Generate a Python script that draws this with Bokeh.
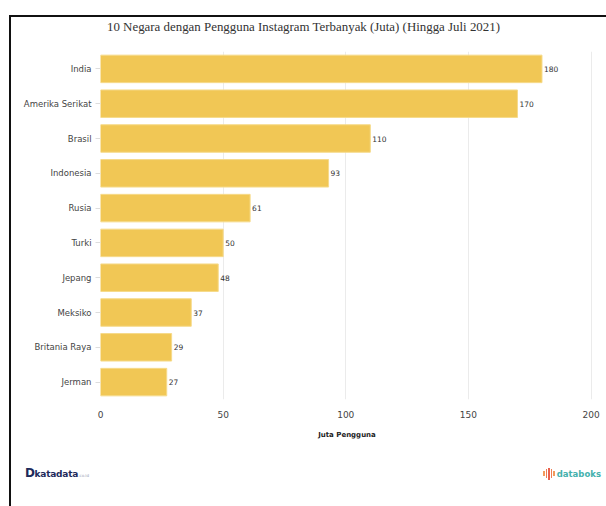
from bokeh.plotting import figure
from bokeh.models import Range1d, FactorRange, ColumnDataSource, LabelSet, Div
from bokeh.layouts import column
from bokeh.core.properties import value
from bokeh.embed import file_html
from bokeh.resources import INLINE

countries = ["India", "Amerika Serikat", "Brasil", "Indonesia", "Rusia",
             "Turki", "Jepang", "Meksiko", "Britania Raya", "Jerman"]
users = [180, 170, 110, 93, 61, 50, 48, 37, 29, 27]
x_ticks = [0, 50, 100, 150, 200]
title_text = "10 Negara dengan Pengguna Instagram Terbanyak (Juta) (Hingga Juli 2021)"

src = ColumnDataSource(dict(country=countries, users=users,
                            lbl=[str(v) for v in users]))

title_div = Div(text=f"""
<div style="position:relative;width:595px;height:20px;">
  <div style="position:absolute;left:96px;top:0px;line-height:20px;white-space:nowrap;
              font-family:'Liberation Serif';font-size:12.9px;color:#333333;">{title_text}</div>
</div>""", width=595, height=20, margin=0)

p = figure(width=595, height=413, output_backend="svg", toolbar_location=None,
           y_range=FactorRange(factors=list(reversed(countries)), range_padding=0.0),
           x_range=Range1d(0, 201),
           min_border_left=89, min_border_right=13, min_border_top=14, min_border_bottom=51)

p.hbar(y="country", right="users", left=0, height=0.79, source=src,
       fill_color="#F1C755", line_color="#F6DA8A", line_width=1)

p.add_layout(LabelSet(x="users", y="country", text="lbl", source=src, x_offset=2,
                      text_font_size=value("7.5px"), text_color="#333333",
                      text_baseline="middle", text_font=value("DejaVu Sans")))

p.outline_line_color = None
p.background_fill_color = "white"
p.border_fill_color = "white"

p.xaxis.ticker = x_ticks
p.xaxis.axis_line_color = None
p.xaxis.major_tick_line_color = None
p.xaxis.minor_tick_line_color = None
p.xaxis.major_label_text_font = "DejaVu Sans"
p.xaxis.major_label_text_font_size = "9px"
p.xaxis.major_label_text_color = "#444444"
p.xaxis.major_label_standoff = 5
p.xaxis.axis_label = "Juta Pengguna"
p.xaxis.axis_label_text_font = "DejaVu Sans"
p.xaxis.axis_label_text_font_size = "7px"
p.xaxis.axis_label_text_font_style = "bold"
p.xaxis.axis_label_text_color = "#222222"
p.xaxis.axis_label_standoff = 10

p.yaxis.axis_line_color = None
p.yaxis.major_tick_line_color = "#dddddd"
p.yaxis.major_tick_out = 5
p.yaxis.major_tick_in = 0
p.yaxis.major_label_text_font = "DejaVu Sans"
p.yaxis.major_label_text_font_size = "8.5px"
p.yaxis.major_label_text_color = "#444444"
p.yaxis.major_label_standoff = 4

p.xgrid.grid_line_color = "#ebebeb"
p.xgrid.grid_line_width = 1
p.ygrid.grid_line_color = None

bars = "".join(
    f'<span style="display:inline-block;width:1.5px;height:{h}px;margin-right:1px;'
    f'background:{c};vertical-align:middle;"></span>'
    for h, c in [(5, "#f39a5c"), (9, "#ef7d52"), (12, "#e9604d"), (9, "#ef7d52"), (5, "#f39a5c")]
)
logo_html = f"""
<div style="position:relative;width:595px;height:56px;font-family:'DejaVu Sans';">
  <div style="position:absolute;left:14px;top:16px;line-height:14px;white-space:nowrap;">
    <span style="font-size:12px;font-weight:bold;color:#1d2a5b;letter-spacing:-0.5px;">D</span><span style="font-size:9px;font-weight:bold;color:#1d2a5b;letter-spacing:-0.2px;">katadata</span><span style="font-size:4px;color:#9aa0b5;">.co.id</span>
  </div>
  <div style="position:absolute;right:5px;top:16px;line-height:14px;white-space:nowrap;">
    {bars}<span style="font-size:8.5px;font-weight:bold;color:#45b1ad;vertical-align:middle;margin-left:1px;">databoks</span>
  </div>
</div>
"""
logos = Div(text=logo_html, width=595, height=56, margin=0)

root = column(title_div, p, logos, width=597, height=491, spacing=0, margin=(15, 0, 0, 9),
              styles={"border-left": "2px solid #111111", "border-top": "2px solid #111111",
                      "box-sizing": "border-box", "background": "white"})

open("out.html", "w").write(file_html(root, INLINE))
